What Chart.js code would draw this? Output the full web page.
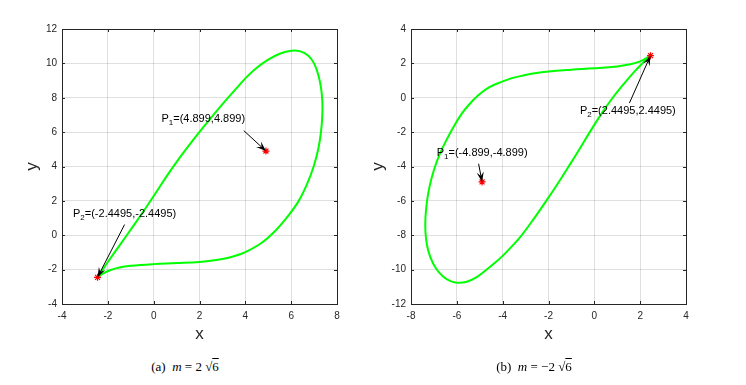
<!DOCTYPE html>
<html><head><meta charset="utf-8">
<script src="https://cdn.jsdelivr.net/npm/chart.js@4.4.1/dist/chart.umd.min.js"></script>
<style>
html,body{margin:0;padding:0;background:#fff;width:746px;height:385px;overflow:hidden}
canvas{position:absolute;top:0}
#ca{left:0}
#cb{left:368px}
.cap{position:absolute;top:359px;font-family:"Liberation Serif","Times New Roman",serif;font-size:13px;color:#000;white-space:nowrap;transform:translateX(-50%);line-height:16px}
.ov{text-decoration:overline}
</style></head><body>
<canvas id="ca" width="373" height="350"></canvas>
<canvas id="cb" width="378" height="350"></canvas>
<div class="cap" style="left:185px">(a)&nbsp;&nbsp;<i>m</i> = 2 √<span class="ov">6</span></div>
<div class="cap" style="left:534px">(b)&nbsp;&nbsp;<i>m</i> = −2 √<span class="ov">6</span></div>
<script>
// ---------- panel (a): m = 2*sqrt(6) ----------
const aCurveX = [-2.45,-1.97,-1.44,-0.91,-0.39,0.11,0.6,1.13,1.7,2.3,2.92,3.58,4.05,4.5,5.0,5.5,6.0,6.4,6.75,7.0,7.19,7.3,7.36,7.36,7.3,7.18,6.98,6.7,6.33,5.85,5.3,4.7,4.0,3.5,3.0,2.5,2.0,1.0,0.0,-1.0,-1.5,-1.9,-2.2,-2.45];
const aCurveY = [-2.45,-1.5,-0.5,0.5,1.5,2.5,3.5,4.5,5.5,6.5,7.5,8.5,9.2,9.75,10.22,10.56,10.74,10.7,10.45,10.0,9.3,8.6,7.8,7.0,6.0,5.0,4.0,3.0,2.0,1.1,0.25,-0.45,-0.98,-1.22,-1.38,-1.48,-1.55,-1.62,-1.68,-1.78,-1.88,-2.04,-2.22,-2.45];
const aPointX = [4.899,-2.4495];
const aPointY = [4.899,-2.4495];
const aPointLabels = ['(4.899,4.899)','(-2.4495,-2.4495)'];
const aXTicks = [-4,-2,0,2,4,6,8];
const aYTicks = [-4,-2,0,2,4,6,8,10,12];

// ---------- panel (b): m = -2*sqrt(6) ----------
const bCurveX = [2.45,2.0,1.5,1.0,0.0,-1.0,-2.0,-2.6,-3.1,-3.6,-4.0,-4.6,-5.1,-5.5,-5.8,-6.1,-6.45,-6.75,-7.0,-7.18,-7.3,-7.37,-7.37,-7.3,-7.15,-6.9,-6.6,-6.3,-6.0,-5.6,-5.15,-4.75,-4.35,-4.0,-3.6,-3.2,-2.62,-2.1,-1.6,-1.12,-0.65,-0.2,0.3,0.8,1.25,1.7,2.1,2.45];
const bCurveY = [2.45,2.12,1.93,1.82,1.71,1.63,1.53,1.43,1.3,1.14,0.95,0.6,0.1,-0.45,-0.95,-1.6,-2.45,-3.3,-4.2,-5.1,-6.0,-7.0,-7.8,-8.6,-9.3,-9.95,-10.4,-10.65,-10.76,-10.72,-10.45,-10.05,-9.62,-9.2,-8.65,-8.05,-7.0,-6.0,-5.0,-4.0,-3.0,-2.0,-0.95,0.0,0.75,1.45,2.0,2.45];
const bPointX = [-4.899,2.4495];
const bPointY = [-4.899,2.4495];
const bPointLabels = ['(-4.899,-4.899)','(2.4495,2.4495)'];
const bXTicks = [-8,-6,-4,-2,0,2,4];
const bYTicks = [-12,-10,-8,-6,-4,-2,0,2,4];

// annotation placement (text anchor and arrow tail, in axis units)
const aNotes = [
  {sub:'1', idx:0, tx:0.34, ty:6.78, ax:3.93, ay:6.09},
  {sub:'2', idx:1, tx:-3.52, ty:1.26, ax:-1.27, ay:0.62}
];
const bNotes = [
  {sub:'1', idx:0, tx:-6.88, ty:-3.22, ax:-5.05, ay:-3.84},
  {sub:'2', idx:1, tx:-0.63, ty:-0.76, ax:1.53, ay:-0.31}
];

const SANS = '"Liberation Sans", Arial, Helvetica, sans-serif';
const AX = '#262626';

function zip(xs, ys){ return xs.map((v,i)=>({x:v, y:ys[i]})); }

function drawNote(ctx, xs, ys, n, px, py, label){
  const tx = xs.getPixelForValue(n.tx), ty = ys.getPixelForValue(n.ty);
  ctx.fillStyle = '#000'; ctx.textBaseline = 'middle'; ctx.textAlign = 'left';
  ctx.font = '11px ' + SANS;
  ctx.fillText('P', tx, ty);
  let w = ctx.measureText('P').width;
  ctx.font = '8px ' + SANS;
  ctx.fillText(n.sub, tx + w, ty + 4);
  w += ctx.measureText(n.sub).width;
  ctx.font = '11px ' + SANS;
  ctx.fillText('=' + label, tx + w, ty);
  const x0 = xs.getPixelForValue(n.ax), y0 = ys.getPixelForValue(n.ay);
  const x1 = xs.getPixelForValue(px), y1 = ys.getPixelForValue(py);
  const ang = Math.atan2(y1 - y0, x1 - x0), L = 10, W = 3.6, c = Math.cos(ang), s = Math.sin(ang);
  ctx.strokeStyle = '#000'; ctx.lineWidth = 1;
  ctx.beginPath(); ctx.moveTo(x0, y0); ctx.lineTo(x1 - c*L*0.6, y1 - s*L*0.6); ctx.stroke();
  const bx = x1 - c*L, by = y1 - s*L, nx = -s, ny = c;
  ctx.beginPath();
  ctx.moveTo(x1, y1);
  ctx.lineTo(bx + nx*W, by + ny*W);
  ctx.lineTo(x1 - c*L*0.6, y1 - s*L*0.6);
  ctx.lineTo(bx - nx*W, by - ny*W);
  ctx.closePath(); ctx.fill();
}

const framePlugin = {
  id: 'frame',
  afterDatasetsDraw(chart, args, opts){
    const {ctx, chartArea: a, scales: {x, y}} = chart;
    ctx.save();
    ctx.strokeStyle = AX; ctx.lineWidth = 1;
    ctx.beginPath();
    x.ticks.forEach(t => { const p = Math.round(x.getPixelForValue(t.value)) + 0.5;
      ctx.moveTo(p, a.bottom); ctx.lineTo(p, a.bottom - 3);
      ctx.moveTo(p, a.top); ctx.lineTo(p, a.top + 3); });
    y.ticks.forEach(t => { const p = Math.round(y.getPixelForValue(t.value)) + 0.5;
      ctx.moveTo(a.left, p); ctx.lineTo(a.left + 3, p);
      ctx.moveTo(a.right, p); ctx.lineTo(a.right - 3, p); });
    ctx.stroke();
    ctx.strokeRect(Math.round(a.left) + 0.5, Math.round(a.top) + 0.5, Math.round(a.right - a.left), Math.round(a.bottom - a.top));
    const P = opts.points;
    opts.notes.forEach(n => drawNote(ctx, x, y, n, P.x[n.idx], P.y[n.idx], P.labels[n.idx]));
    ctx.restore();
  }
};

function makeChart(id, cfg){
  return new Chart(document.getElementById(id), {
    type: 'scatter',
    data: { datasets: [
      { data: zip(cfg.px, cfg.py), showLine: false, pointStyle: 'star', pointRadius: 3.5,
        borderColor: '#ff0000', backgroundColor: '#ff0000', borderWidth: 1.2 },
      { data: zip(cfg.cx, cfg.cy), showLine: true, borderColor: '#00ff00', borderWidth: 2,
        pointRadius: 0, tension: 0.4, fill: false }
    ]},
    options: {
      responsive: false, animation: false, devicePixelRatio: 1,
      layout: { padding: { left: 0, right: cfg.padRight, top: 29, bottom: 0 } },
      plugins: { legend: { display: false }, tooltip: { enabled: false },
        frame: { notes: cfg.notes, points: { x: cfg.px, y: cfg.py, labels: cfg.labels } } },
      scales: {
        x: { type: 'linear', min: cfg.xTicks[0], max: cfg.xTicks[cfg.xTicks.length-1],
          afterBuildTicks: s => { s.ticks = cfg.xTicks.map(v => ({value: v})); },
          afterFit: s => { s.height = 46; },
          grid: { color: 'rgba(38,38,38,0.15)', drawTicks: false, lineWidth: 1 },
          border: { display: false },
          ticks: { color: AX, font: { family: SANS, size: 10 }, padding: 6, maxRotation: 0 },
          title: { display: true, text: 'x', color: AX, font: { family: SANS, size: 17 }, padding: { top: 0, bottom: 5 } } },
        y: { type: 'linear', min: cfg.yTicks[0], max: cfg.yTicks[cfg.yTicks.length-1],
          afterBuildTicks: s => { s.ticks = cfg.yTicks.map(v => ({value: v})); },
          afterFit: s => { s.width = cfg.yWidth; },
          grid: { color: 'rgba(38,38,38,0.15)', drawTicks: false, lineWidth: 1 },
          border: { display: false },
          ticks: { color: AX, font: { family: SANS, size: 10 }, padding: 5 },
          title: { display: true, text: 'y', color: AX, font: { family: SANS, size: 17 }, padding: { top: cfg.yTitlePad, bottom: 0 } } }
      }
    },
    plugins: [framePlugin]
  });
}

makeChart('ca', { cx: aCurveX, cy: aCurveY, px: aPointX, py: aPointY, labels: aPointLabels,
  xTicks: aXTicks, yTicks: aYTicks, notes: aNotes, padRight: 36, yWidth: 62, yTitlePad: 22 });
makeChart('cb', { cx: bCurveX, cy: bCurveY, px: bPointX, py: bPointY, labels: bPointLabels,
  xTicks: bXTicks, yTicks: bYTicks, notes: bNotes, padRight: 60, yWidth: 43, yTitlePad: 0 });
</script>
</body></html>
